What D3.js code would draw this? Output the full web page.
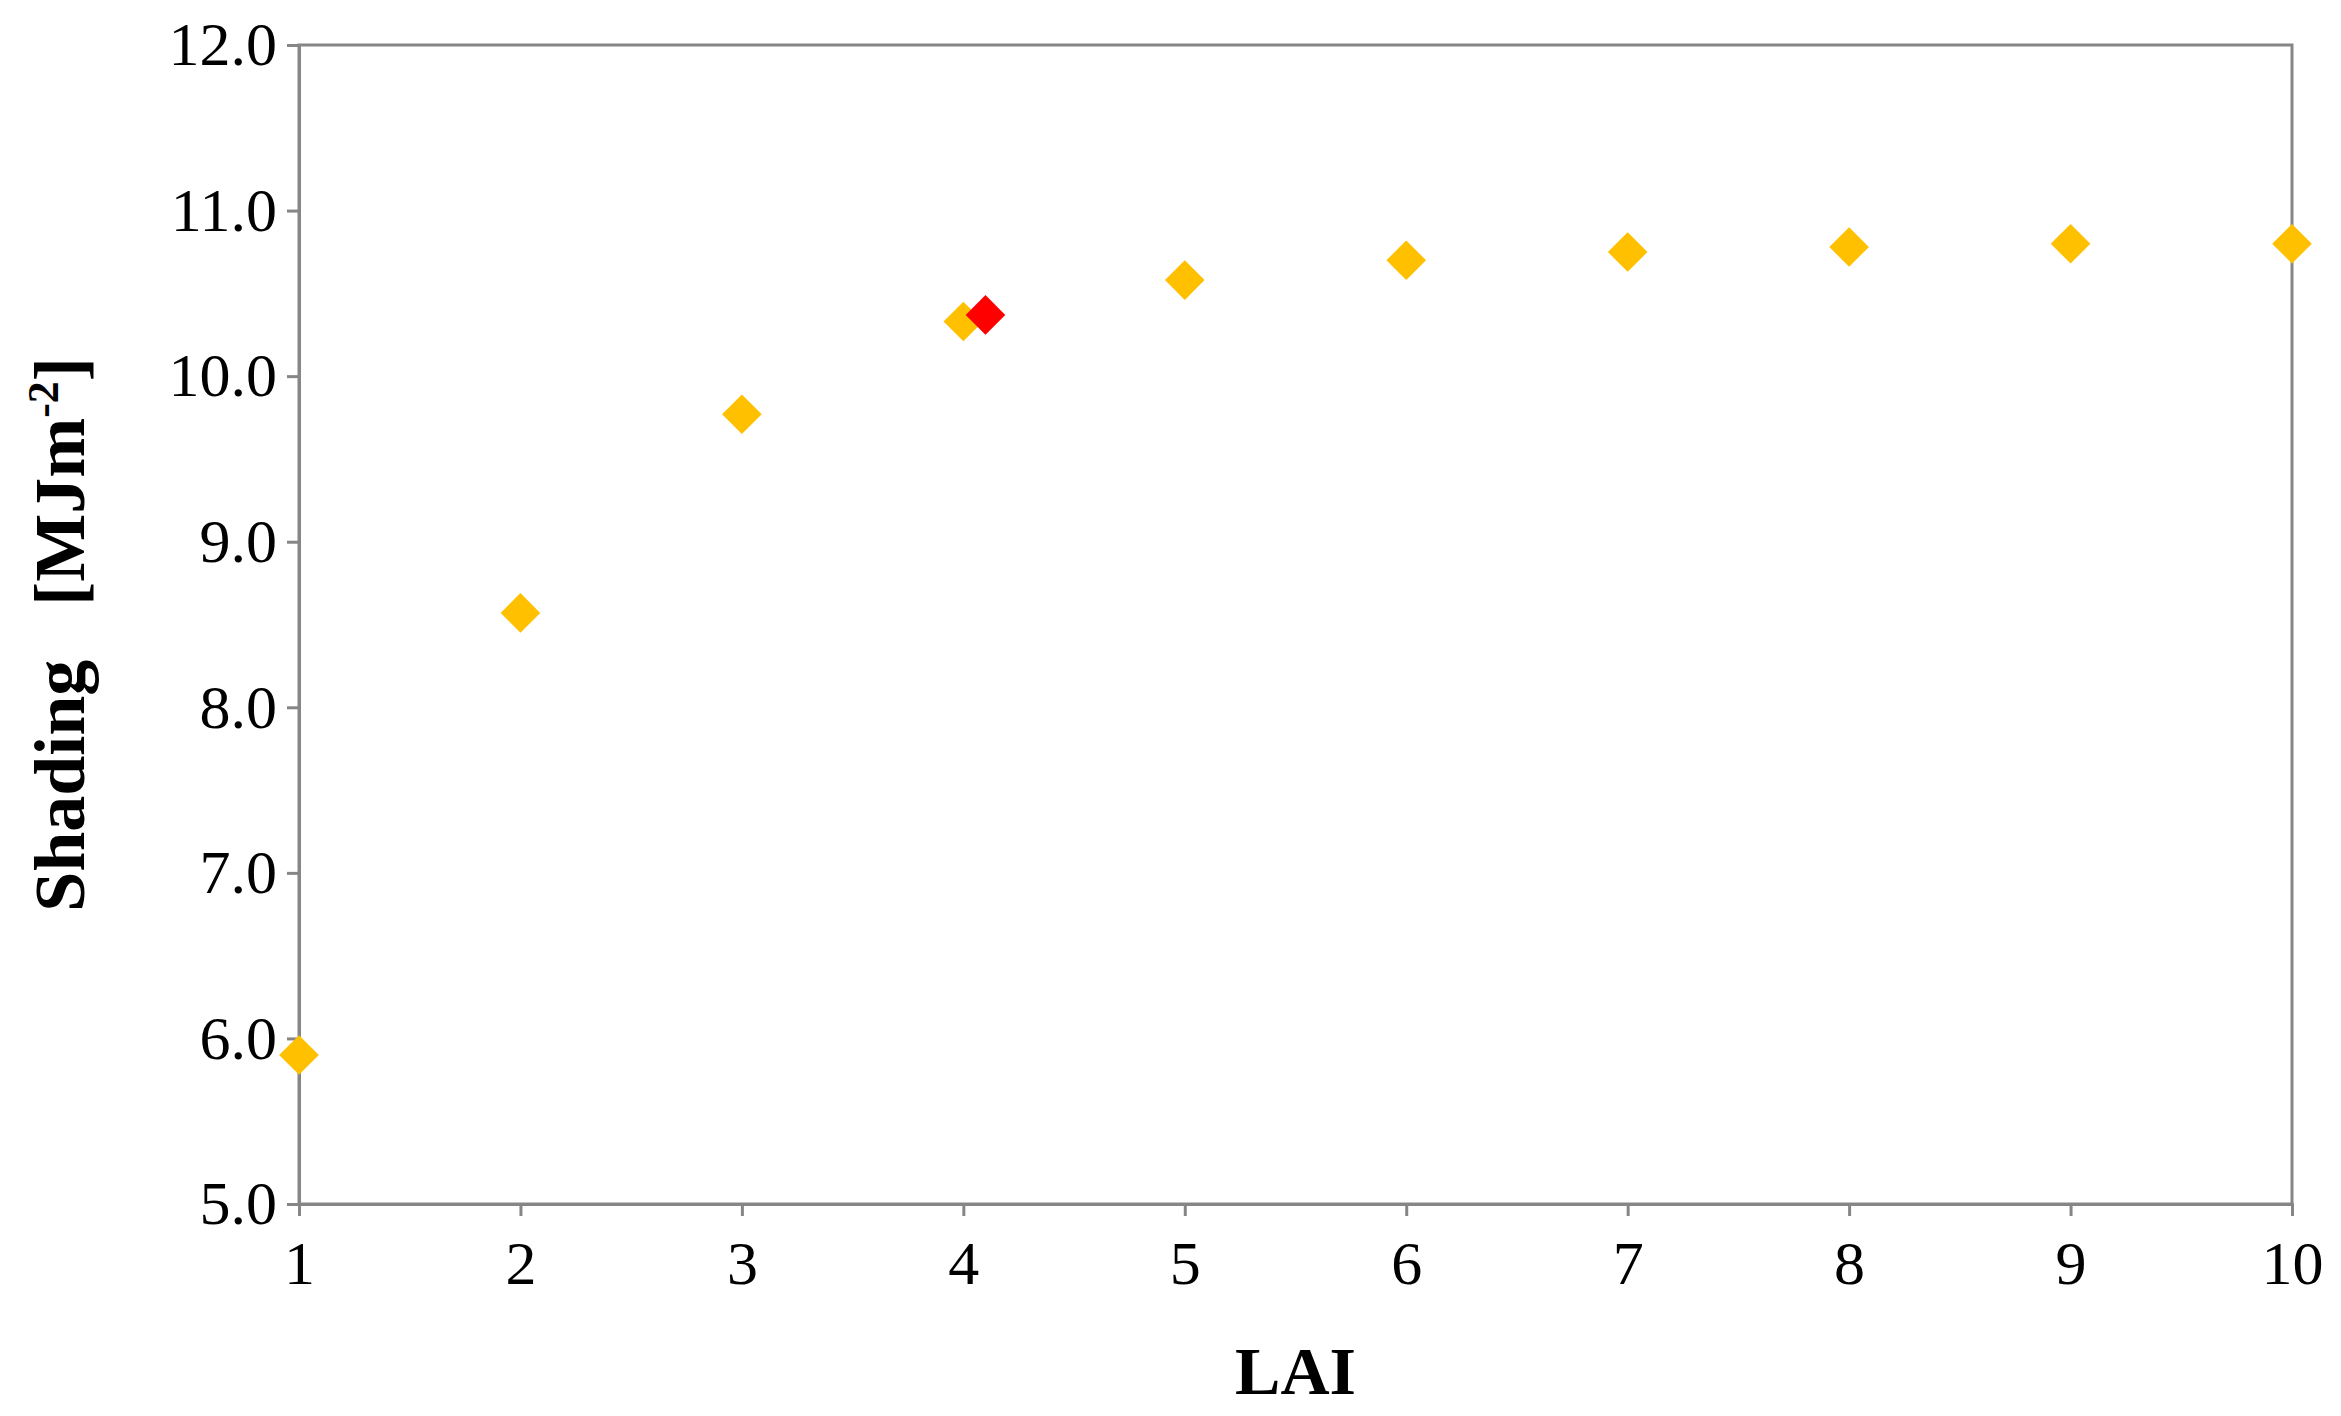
<!DOCTYPE html>
<html><head><meta charset="utf-8">
<script src="https://cdn.jsdelivr.net/npm/d3@7"></script>
<style>body{margin:0;background:#fff}</style>
</head><body>
<svg id="chart" width="2341" height="1416"></svg>
<script>
const lai = [1, 2, 3, 4, 5, 6, 7, 8, 9, 10];
const shading = [5.9, 8.57, 9.77, 10.33, 10.58, 10.70, 10.75, 10.78, 10.80, 10.80];
const highlightX = [4.1];
const highlightY = [10.37];
const yTicks = [5, 6, 7, 8, 9, 10, 11, 12];

const m = { left: 299, right: 2292, top: 45, bottom: 1204 };
const svg = d3.select('#chart');
const x = d3.scaleLinear().domain([1, 10]).range([m.left, m.right]);
const y = d3.scaleLinear().domain([5, 12]).range([m.bottom, m.top]);
const font = '"Liberation Serif", "Times New Roman", serif';
const axisColor = '#868686';

// frame
svg.append('rect')
  .attr('x', m.left).attr('y', m.top)
  .attr('width', m.right - m.left).attr('height', m.bottom - m.top)
  .attr('fill', 'none').attr('stroke', axisColor).attr('stroke-width', 3);

const xAxis = svg.append('g')
  .attr('transform', `translate(0,${m.bottom})`)
  .call(d3.axisBottom(x).tickValues(lai).tickSize(12).tickPadding(24).tickFormat(d3.format('d')));
const yAxis = svg.append('g')
  .attr('transform', `translate(${m.left},0)`)
  .call(d3.axisLeft(y).tickValues(yTicks).tickSize(12).tickPadding(10).tickFormat(d3.format('.1f')));

[xAxis, yAxis].forEach(a => {
  a.select('.domain').attr('stroke', axisColor).attr('stroke-width', 3);
  a.selectAll('.tick line').attr('stroke', axisColor).attr('stroke-width', 3);
  a.selectAll('.tick text').attr('font-family', font).attr('font-size', 62).attr('fill', '#000');
});

const diamond = d3.symbol().type(d3.symbolDiamond2).size(1000);
svg.append('g').selectAll('path')
  .data(lai.map((d, i) => [d, shading[i]]))
  .join('path')
  .attr('d', diamond)
  .attr('transform', d => `translate(${x(d[0])},${y(d[1])})`)
  .attr('fill', '#FFC000');

svg.append('g').selectAll('path')
  .data(highlightX.map((d, i) => [d, highlightY[i]]))
  .join('path')
  .attr('d', diamond)
  .attr('transform', d => `translate(${x(d[0])},${y(d[1])})`)
  .attr('fill', '#FF0000');

svg.append('text')
  .attr('x', (m.left + m.right) / 2).attr('y', 1394)
  .attr('text-anchor', 'middle')
  .attr('font-family', font).attr('font-weight', 'bold').attr('font-size', 68)
  .text('LAI');

const yt = svg.append('text')
  .attr('transform', `translate(84,${(m.top + m.bottom) / 2 + 10}) rotate(-90)`)
  .attr('text-anchor', 'middle')
  .attr('font-family', font).attr('font-weight', 'bold').attr('font-size', 72);
yt.append('tspan').text('Shading\u00a0\u00a0\u00a0[MJm');
yt.append('tspan').attr('font-size', 44).attr('dy', -26).text('-2');
yt.append('tspan').attr('dy', 26).text(']');
</script>
</body></html>
